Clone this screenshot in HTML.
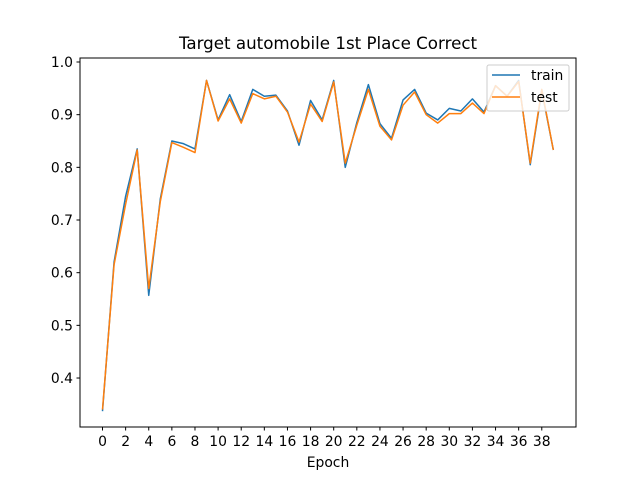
<!DOCTYPE html>
<html><head><meta charset="utf-8"><style>
body{margin:0;background:#fff}
svg text{font-family:"DejaVu Sans","Liberation Sans",sans-serif;fill:#000}
</style></head><body>
<svg id="chart" width="640" height="480" xmlns="http://www.w3.org/2000/svg">
<rect width="640" height="480" fill="#fff"/>
<text x="328" y="49" font-size="16.7" text-anchor="middle">Target automobile 1st Place Correct</text>
<g id="plot"></g>
<rect x="80" y="58" width="496" height="369" fill="none" stroke="#000" stroke-width="1"/>
<text x="328" y="467" font-size="13.9" text-anchor="middle">Epoch</text>
<g>
<rect x="487" y="65" width="82" height="46" fill="#fff" fill-opacity="0.8" stroke="#ccc" rx="2"/>
<line x1="492" y1="75" x2="520" y2="75" stroke="#1f77b4" stroke-width="1.5"/>
<text x="531" y="80" font-size="13.9">train</text>
<line x1="492" y1="97" x2="520" y2="97" stroke="#ff7f0e" stroke-width="1.5"/>
<text x="531" y="102" font-size="13.9">test</text>
</g>
</svg>
<script>
const epochs = Array.from({length:40},(_,i)=>i);
const trainVals = [0.337,0.62,0.745,0.835,0.557,0.74,0.85,0.845,0.835,0.965,0.89,0.938,0.887,0.948,0.935,0.937,0.907,0.842,0.927,0.89,0.965,0.80,0.885,0.957,0.883,0.855,0.928,0.948,0.903,0.89,0.912,0.907,0.93,0.905,0.955,0.935,0.965,0.805,0.945,0.833];
const testVals = [0.34,0.615,0.73,0.833,0.57,0.735,0.847,0.838,0.828,0.965,0.888,0.93,0.884,0.94,0.93,0.935,0.905,0.848,0.92,0.887,0.962,0.808,0.88,0.948,0.878,0.852,0.918,0.943,0.9,0.884,0.902,0.902,0.922,0.902,0.955,0.935,0.963,0.808,0.948,0.833];
const xTicks = [0,2,4,6,8,10,12,14,16,18,20,22,24,26,28,30,32,34,36,38];
const yTicks = [0.4,0.5,0.6,0.7,0.8,0.9,1.0];
const ns="http://www.w3.org/2000/svg";
const X = v => 102.5 + v*11.56;
const Y = v => 62 + (1-v)*526.7;
const g = document.getElementById('plot');
function mk(t,a){const e=document.createElementNS(ns,t);for(const k in a)e.setAttribute(k,a[k]);g.appendChild(e);return e;}
xTicks.forEach(t=>{
  const l=mk('line',{x1:X(t),x2:X(t),y1:427,y2:430.5,stroke:'#000'});
  
  
  const tx=mk('text',{x:X(t),y:446,'font-size':13.9,'text-anchor':'middle'});tx.textContent=t;
  
  
});
yTicks.forEach(t=>{
  const l=mk('line',{x1:76.5,x2:80,y1:Y(t),y2:Y(t),stroke:'#000'});
  
  
  const tx=mk('text',{x:73,y:Y(t)+5,'font-size':13.9,'text-anchor':'end'});tx.textContent=t.toFixed(1);
  
  
});
[[trainVals,'#1f77b4','train-line'],[testVals,'#ff7f0e','test-line']].forEach(([vals,c,n])=>{
  const p=mk('polyline',{points:vals.map((v,i)=>X(epochs[i])+','+Y(v)).join(' '),fill:'none',stroke:c,'stroke-width':1.5,'stroke-linejoin':'round'});
  
  
});
</script>
</body></html>
